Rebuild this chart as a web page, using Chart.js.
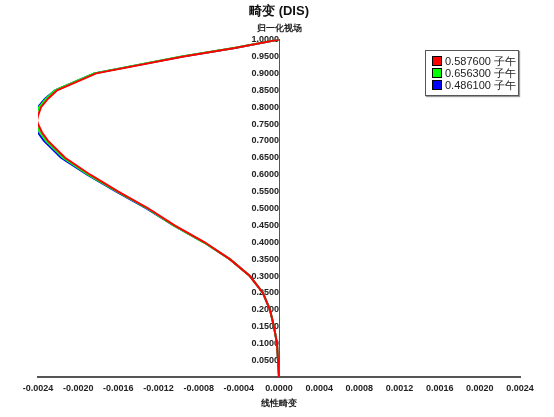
<!DOCTYPE html>
<html>
<head>
<meta charset="utf-8">
<script src="https://cdn.jsdelivr.net/npm/chart.js@4"></script>
<style>
    body { margin: 0; background: #fff; font-family: "Liberation Sans", Arial, sans-serif; }
    .wrap { position: relative; width: 554px; height: 417px; }
    .legend {
        position: absolute; left: 425px; top: 50px; width: 86px;
        border: 1px solid #555; background: #fff; padding: 4px 0 4px 6px;
        box-shadow: 1px 1px 1px #999; font-size: 11px; color: #222;
    }
    .legend div { line-height: 12px; white-space: nowrap; }
    .legend span { display: inline-block; width: 8px; height: 8px; border: 1px solid #000; margin-right: 3px; vertical-align: -1px; }
</style>
</head>
<body>
<div class="wrap">
    <canvas id="disChart" width="554" height="417"></canvas>
    <div class="legend">
        <div><span style="background:#ff0000"></span>0.587600 子午</div>
        <div><span style="background:#00ff00"></span>0.656300 子午</div>
        <div><span style="background:#0000ff"></span>0.486100 子午</div>
    </div>
</div>
<script>
    // 归一化视场
    const fields = [0, 0.05, 0.1, 0.15, 0.2, 0.25, 0.3, 0.35, 0.4, 0.45, 0.5, 0.55, 0.6, 0.65, 0.7, 0.725, 0.75, 0.76, 0.775, 0.8, 0.825, 0.85, 0.9, 0.95, 0.975, 1.0];
    // 线性畸变
    const disRed = [0, -0.00001, -0.00002, -0.00005, -0.00009, -0.00016, -0.00029, -0.00049, -0.00074, -0.00104, -0.0013, -0.0016, -0.00188, -0.00213, -0.0023, -0.00236, -0.0024, -0.00241, -0.0024, -0.00237, -0.0023, -0.00221, -0.00182, -0.00095, -0.00044, 0];
    const disGreen = [0, -0.00001, -0.00002, -0.00005, -0.00009, -0.00016, -0.00029, -0.00049, -0.00075, -0.00105, -0.00131, -0.00161, -0.0019, -0.00215, -0.00232, -0.00238, -0.00242, -0.00243, -0.00242, -0.00239, -0.00232, -0.00223, -0.00184, -0.00097, -0.00045, 0];
    const disBlue = [0, -0.00001, -0.00002, -0.00005, -0.00009, -0.00016, -0.00029, -0.00049, -0.00075, -0.00105, -0.00132, -0.00162, -0.00191, -0.00217, -0.00234, -0.0024, -0.00244, -0.00245, -0.00244, -0.0024, -0.00233, -0.00223, -0.00184, -0.00096, -0.00044, 0];
    const xTicks = [-0.0024, -0.0020, -0.0016, -0.0012, -0.0008, -0.0004, 0, 0.0004, 0.0008, 0.0012, 0.0016, 0.0020, 0.0024];

    const pts = arr => arr.map((v, i) => ({ x: v, y: fields[i] }));
    const tickFont = { family: 'Liberation Sans', size: 9, weight: 'bold' };

    // y 轴顶部标题
    const topLabel = {
        id: 'topLabel',
        afterDraw(chart) {
            const c = chart.ctx, xs = chart.scales.x, ys = chart.scales.y;
            c.save();
            c.font = 'bold 9px "Liberation Sans"';
            c.fillStyle = '#222';
            c.textAlign = 'center';
            c.fillText('归一化视场', xs.getPixelForValue(0), ys.getPixelForValue(1) - 9);
            c.restore();
        }
    };

    new Chart(document.getElementById('disChart'), {
        type: 'scatter',
        data: {
            datasets: [
                { label: '0.587600 子午', data: pts(disRed), borderColor: '#ff0000' },
                { label: '0.656300 子午', data: pts(disGreen), borderColor: '#00ff00' },
                { label: '0.486100 子午', data: pts(disBlue), borderColor: '#0000ff' }
            ].map(d => Object.assign(d, { showLine: true, pointRadius: 0, borderWidth: 2, fill: false }))
        },
        options: {
            responsive: false,
            animation: false,
            layout: { padding: { left: 38, right: 34, top: 4, bottom: 4 } },
            plugins: {
                legend: { display: false },
                tooltip: { enabled: false },
                title: {
                    display: true, text: '畸变 (DIS)', color: '#111',
                    font: { family: 'Liberation Sans', size: 13, weight: 'bold' },
                    padding: { top: 0, bottom: 20 }
                }
            },
            scales: {
                x: {
                    type: 'linear', min: -0.0024, max: 0.0024,
                    afterBuildTicks: s => { s.ticks = []; for (let i = -12; i <= 12; i++) s.ticks.push({ value: i * 0.0002 }); },
                    grid: { display: false, drawTicks: true, tickLength: 4, color: '#555' },
                    border: { color: '#555', width: 2 },
                    ticks: {
                        color: '#222', font: tickFont, maxRotation: 0, autoSkip: false, padding: 2,
                        callback: v => xTicks.some(t => Math.abs(t - v) < 1e-9) ? v.toFixed(4) : ''
                    },
                    title: { display: true, text: '线性畸变', color: '#222', font: tickFont, padding: { top: 2 } }
                },
                y: {
                    type: 'linear', min: 0, max: 1, position: { x: 0 },
                    afterBuildTicks: s => { s.ticks = []; for (let i = 0; i <= 20; i++) s.ticks.push({ value: i * 0.05 }); },
                    grid: { display: false, drawTicks: true, tickLength: 4, color: '#555' },
                    border: { color: '#555', width: 1 },
                    ticks: {
                        color: '#222', font: tickFont, autoSkip: false, padding: 2,
                        callback: v => v === 0 ? '' : v.toFixed(4)
                    }
                }
            }
        },
        plugins: [topLabel]
    });
</script>
</body>
</html>
